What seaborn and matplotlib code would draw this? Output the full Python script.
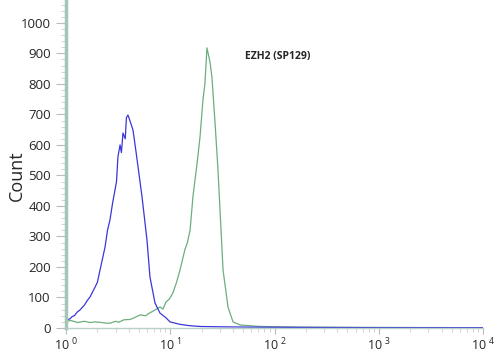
import numpy as np
import pandas as pd
import matplotlib
matplotlib.use('Agg')
import matplotlib.pyplot as plt
import seaborn as sns
from matplotlib.ticker import MultipleLocator, LogLocator, NullFormatter

# isotype / unstained control (blue)
ctrl_x = [1.0, 1.05, 1.09, 1.15, 1.2, 1.28, 1.36, 1.5, 1.6, 1.7, 1.9, 2.0, 2.12, 2.25, 2.37,
          2.5, 2.64, 2.8, 2.95, 3.05, 3.15, 3.3, 3.4, 3.52, 3.7, 3.8, 3.93, 4.1, 4.39,
          4.6, 4.91, 5.36, 5.98, 6.39, 7.14, 7.97, 9.0, 9.95, 12.4, 15.0, 19.3, 30.0,
          58.0, 176.0, 1000.0, 10000.0]
ctrl_y = [23, 28, 30, 38, 40, 52, 59, 75, 90, 102, 134, 150, 190, 230, 266,
          320, 354, 410, 452, 480, 561, 600, 575, 639, 620, 690, 698, 680, 649,
          600, 528, 430, 289, 167, 82, 49, 35, 20, 12, 8, 5, 4,
          3, 2, 1, 1]

# EZH2 (SP129) stained (green)
ezh2_x = [1.0, 1.1, 1.3, 1.5, 1.7, 1.9, 2.1, 2.4, 2.64, 3.0, 3.2, 3.6, 4.11, 4.6, 5.13,
          5.8, 6.39, 7.14, 7.97, 8.5, 9.1, 9.8, 10.6, 11.5, 12.4, 13.8, 14.6, 15.5, 16.5,
          18.1, 19.3, 20.6, 21.5, 22.5, 24.1, 25.1, 26.9, 28.7, 30.7, 32.1, 35.8,
          40.0, 46.7, 72.6, 176.0, 1000.0, 10000.0]
ezh2_y = [20, 25, 18, 22, 18, 20, 19, 16, 16, 22, 19, 27, 28, 35, 43,
          40, 50, 59, 69, 62, 85, 95, 115, 150, 190, 256, 280, 321, 430,
          541, 626, 748, 800, 918, 870, 823, 672, 518, 321, 190, 69,
          20, 10, 5, 3, 2, 1]

xtick_vals = [1, 10, 100, 1000, 10000]
xtick_labels = ['10$^{\\ 0}$', '10$^{\\ 1}$', '10$^{\\ 2}$', '10$^{\\ 3}$', '10$^{\\ 4}$']

df_ctrl = pd.DataFrame({'intensity': ctrl_x, 'count': ctrl_y})
df_ezh2 = pd.DataFrame({'intensity': ezh2_x, 'count': ezh2_y})

sns.set_style('white')
plt.rcParams['font.family'] = ['Open Sans', 'DejaVu Sans']
plt.rcParams['mathtext.default'] = 'regular'

fig = plt.figure(figsize=(5, 3.57), dpi=100)
ax = fig.add_axes([0.132, 0.0812, 0.834, 0.9188])

sns.lineplot(data=df_ezh2, x='intensity', y='count', color='#6cae7c', lw=0.9, ax=ax)
sns.lineplot(data=df_ctrl, x='intensity', y='count', color='#3b36d8', lw=0.9, ax=ax)

ax.set_xscale('log')
ax.set_xlim(1, 10000)
ax.set_ylim(0, 1075)

ax.set_yticks(np.arange(0, 1001, 100))
ax.yaxis.set_minor_locator(MultipleLocator(20))
ax.set_xticks(xtick_vals)
ax.set_xticklabels(xtick_labels)
ax.xaxis.set_minor_locator(LogLocator(base=10, subs=np.arange(2, 10)))
ax.xaxis.set_minor_formatter(NullFormatter())

ax.tick_params(axis='y', which='major', length=7, width=0.8, color='#bbbbbb',
               labelsize=9.5, pad=4, left=True)
ax.tick_params(axis='y', which='minor', length=3.5, width=0.6, color='#cccccc', left=True)
ax.tick_params(axis='x', which='major', length=4, width=0.8, color='#bbbbbb',
               labelsize=9, pad=2, bottom=True)
ax.tick_params(axis='x', which='minor', length=3, width=0.6, color='#cccccc', bottom=True)

for s in ['top', 'right']:
    ax.spines[s].set_visible(False)
ax.spines['left'].set_color('#a3c6b9')
ax.spines['left'].set_linewidth(2.5)
ax.spines['bottom'].set_color('#b8d0c6')
ax.spines['bottom'].set_linewidth(1.0)

ax.set_xlabel('')
ax.set_ylabel('Count', fontsize=13)
ax.yaxis.set_label_coords(-0.097, 0.465)

ax.text(52, 889, 'EZH2 (SP129)', fontsize=7.5, fontweight='bold', ha='left', va='center')

fig.savefig('out.png', dpi=100)
